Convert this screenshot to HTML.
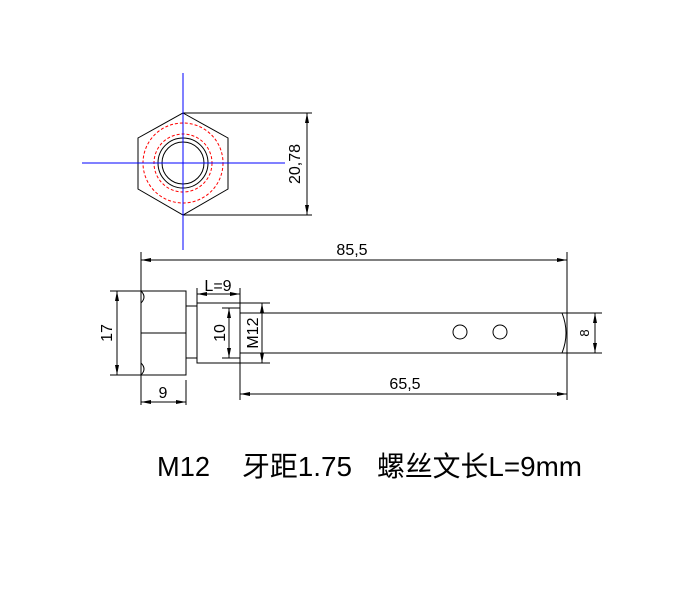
<!DOCTYPE html>
<html><head><meta charset="utf-8"><style>body{margin:0;background:#fff}svg{display:block}</style></head><body>
<svg width="700" height="600" xmlns="http://www.w3.org/2000/svg" font-family="Liberation Sans, sans-serif">
<defs>
<marker id="a" viewBox="0 0 10 6" refX="10" refY="3" markerWidth="10" markerHeight="6" orient="auto-start-reverse" markerUnits="userSpaceOnUse"><path d="M0,1 L10,3 L0,5 Z" fill="#000"/></marker>
</defs>
<g fill="none" stroke="#000" stroke-width="1">
<polygon points="183,113 228,138 228,189 183,215 138,189 138,138"/>
<circle cx="183" cy="163" r="25"/>
<circle cx="183" cy="163" r="21"/>
<circle cx="183" cy="163" r="40" stroke="red" stroke-dasharray="3,2"/>
<circle cx="183" cy="163" r="29" stroke="red" stroke-dasharray="3,2"/>
<line x1="183" y1="113" x2="312" y2="113"/>
<line x1="183" y1="215" x2="312" y2="215"/>
<line x1="307" y1="113" x2="307" y2="215" marker-start="url(#a)" marker-end="url(#a)"/>
</g>
<g stroke="#0000ff" stroke-width="1">
<line x1="183" y1="73" x2="183" y2="250"/>
<line x1="82" y1="163" x2="285" y2="163"/>
</g>
<text transform="translate(300,164) rotate(-90)" text-anchor="middle" font-size="16">20,78</text>

<g fill="none" stroke="#000" stroke-width="1">
<line x1="141" y1="252" x2="141" y2="405"/>
<line x1="567" y1="252" x2="567" y2="400"/>
<line x1="141" y1="260" x2="567" y2="260" marker-start="url(#a)" marker-end="url(#a)"/>
<path d="M141,291 H186 V375 H141 M141,333 H186"/>
<path d="M141,291 Q147,297 141,303 M141,363 Q147,369 141,375"/>
<line x1="110" y1="291" x2="141" y2="291"/>
<line x1="110" y1="375" x2="141" y2="375"/>
<line x1="117" y1="291" x2="117" y2="375" marker-start="url(#a)" marker-end="url(#a)"/>
<rect x="186" y="306" width="11" height="52"/>
<rect x="197" y="303" width="43" height="60"/>
<line x1="229" y1="308" x2="229" y2="358" marker-start="url(#a)" marker-end="url(#a)"/>
<line x1="222" y1="308" x2="240" y2="308"/>
<line x1="222" y1="358" x2="240" y2="358"/>
<line x1="197" y1="288" x2="197" y2="303"/>
<line x1="240" y1="288" x2="240" y2="400"/>
<line x1="197" y1="294" x2="240" y2="294" marker-start="url(#a)" marker-end="url(#a)"/>
<path d="M240,313 H566 M240,353 H566"/>
<path d="M562,313 Q570,333 562,353"/>
<line x1="240" y1="303" x2="270" y2="303"/>
<line x1="240" y1="363" x2="270" y2="363"/>
<line x1="262" y1="303" x2="262" y2="363" marker-start="url(#a)" marker-end="url(#a)"/>
<circle cx="460" cy="332" r="7"/>
<circle cx="500" cy="332" r="7"/>
<line x1="566" y1="313" x2="602" y2="313"/>
<line x1="566" y1="353" x2="602" y2="353"/>
<line x1="595" y1="313" x2="595" y2="353" marker-start="url(#a)" marker-end="url(#a)"/>
<line x1="186" y1="380" x2="186" y2="405"/>
<line x1="141" y1="402" x2="186" y2="402" marker-start="url(#a)" marker-end="url(#a)"/>
<line x1="240" y1="394" x2="567" y2="394" marker-start="url(#a)" marker-end="url(#a)"/>
</g>
<g font-size="16" fill="#000">
<text x="352" y="255" text-anchor="middle">85,5</text>
<text x="218" y="291" text-anchor="middle">L=9</text>
<text x="163" y="398" text-anchor="middle">9</text>
<text x="405" y="389" text-anchor="middle">65,5</text>
<text transform="translate(112,333) rotate(-90)" text-anchor="middle">17</text>
<text transform="translate(225,333) rotate(-90)" text-anchor="middle">10</text>
<text transform="translate(258,333) rotate(-90)" text-anchor="middle">M12</text>
<text transform="translate(589,333) rotate(-90)" text-anchor="middle" font-size="13">8</text>
</g>
<g font-size="28" fill="#000" font-family="Liberation Sans, Noto Sans CJK SC, sans-serif">
<text x="157" y="476" textLength="53" lengthAdjust="spacingAndGlyphs">M12</text>
<text x="242" y="476" textLength="110" lengthAdjust="spacingAndGlyphs">牙距1.75</text>
<text x="377" y="476" textLength="205" lengthAdjust="spacingAndGlyphs">螺丝文长L=9mm</text>
</g>
</svg>
</body></html>
